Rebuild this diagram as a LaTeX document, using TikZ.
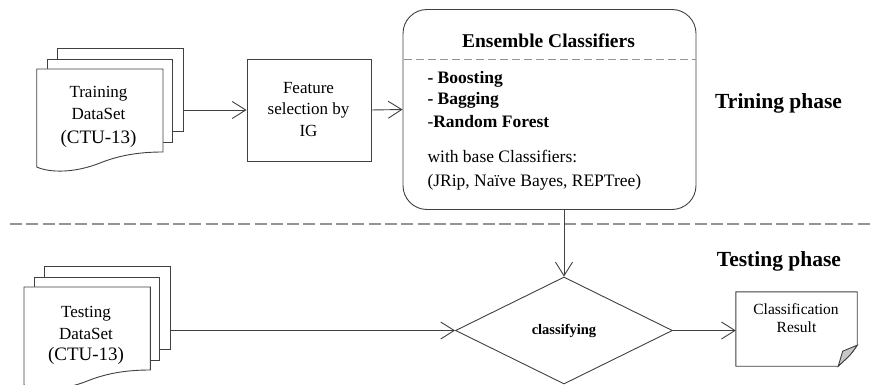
\documentclass[tikz,border=0pt]{standalone}
\usepackage{fontspec}
\setmainfont{Liberation Serif}
\usetikzlibrary{arrows.meta,shapes.geometric,calc}
\newcommand\myfs[1]{\fontsize{#1}{#1}\selectfont}
\begin{document}
\begin{tikzpicture}[x=1pt,y=-1pt,
  ln/.style={draw=black!75, line width=0.9pt},
  arr/.style={ln, -{Straight Barb[length=13.5pt,width=17pt]}},
  page/.style={ln, fill=white},
  txt/.style={inner sep=0pt, anchor=base, text=black},
  txtl/.style={inner sep=0pt, anchor=base west, text=black},
  sepline/.style={draw=black!42, line width=2pt, dash pattern=on 12pt off 4.3pt},
  innerdash/.style={draw=black!42, line width=1pt, dash pattern=on 8pt off 4pt}]
\useasboundingbox (0,0) rectangle (871,385);

% separator
\draw[sepline] (10,224) -- (871,224);

% Training data stack
\draw[page] (57,48) rectangle (183,131);
\draw[page] (47,59) rectangle (172,142);
\draw[page] (36.7,69) -- (163,69) -- (163,152)
  .. controls (140,152) and (120,155) .. (100,163)
  .. controls (75,173) and (50,173) .. (36.7,167) -- cycle;
\node[txt, font=\myfs{17}] (tr1) at (98.5,98) {Training};
\node[txt, font=\myfs{17}] (tr2) at (98.5,120) {DataSet};
\node[txt, font=\myfs{19}] (tr3) at (98.5,144) {(CTU-13)};
\coordinate (trainout) at (183,110);

% Feature selection
\node[ln, minimum width=124pt, minimum height=102pt, inner sep=0pt] (feat) at (309,110) {};
\node[txt, font=\myfs{17}] (f1) at (308.5,93.3) {Feature};
\node[txt, font=\myfs{17}] (f2) at (308.5,115) {selection by};
\node[txt, font=\myfs{17}] (f3) at (308.5,136.7) {IG};

% Ensemble classifiers
\node[ln, rounded corners=24pt, minimum width=293pt, minimum height=200pt, inner sep=0pt] (ens) at (549.5,109.5) {};
\draw[innerdash] (403.5,60) -- (695.5,60);
\node[txt, font=\bfseries\myfs{19.5}] (e0) at (548.5,47.7) {Ensemble Classifiers};
\node[txtl, font=\bfseries\myfs{17.5}] (e1) at (427.3,83.3) {- Boosting};
\node[txtl, font=\bfseries\myfs{17.5}] (e2) at (427.3,105) {- Bagging};
\node[txtl, font=\myfs{17.5}] (e3) at (427.3,127.7) {-\textbf{Random Forest}};
\node[txtl, font=\myfs{17.5}] (e4) at (427.3,162.7) {with base Classifiers:};
\node[txtl, font=\myfs{17.5}] (e5) at (427.3,186.7) {(JRip, Naïve Bayes, REPTree)};

% Phase labels
\node[txtl, font=\bfseries\myfs{21.5}] (trph) at (715,108.3) {Trining phase};
\node[txtl, font=\bfseries\myfs{21.5}] (teph) at (716.7,266.7) {Testing phase};

% Testing data stack
\draw[page] (44.3,266) rectangle (170.3,349);
\draw[page] (34.3,277) rectangle (159.3,360);
\draw[page] (24,287) -- (150.3,287) -- (150.3,370)
  .. controls (127.3,370) and (107.3,373) .. (87.3,381)
  .. controls (62.3,391) and (37.3,391) .. (24,385) -- cycle;
\node[txt, font=\myfs{17}] (te1) at (86,317.7) {Testing};
\node[txt, font=\myfs{17}] (te2) at (86,339) {DataSet};
\node[txt, font=\myfs{19}] (te3) at (86,360.7) {(CTU-13)};
\coordinate (testout) at (170.3,330.5);

% Classifying diamond
\node[ln, diamond, minimum width=217pt, minimum height=107pt, inner sep=0pt, font=\bfseries\myfs{14.5}] (cls) at (564,330.5) {classifying};

% Result document
\node[inner sep=0pt, minimum width=121pt, minimum height=74pt] (res) at (796.5,329) {};
\draw[ln, fill=white] (res.north west) -- (res.north east) -- ($(res.south east)+(0,-21)$)
  .. controls ($(res.south east)+(-6,-12)$) .. ($(res.south east)+(-19,0)$) -- (res.south west) -- cycle;
\draw[ln, fill=black!22] ($(res.south east)+(0,-21)$) -- ($(res.south east)+(-14.5,-15)$) -- ($(res.south east)+(-19,0)$)
  .. controls ($(res.south east)+(-6,-12)$) .. ($(res.south east)+(0,-21)$) -- cycle;
\node[txt, font=\myfs{15.5}] (r1) at (796,314.3) {Classification};
\node[txt, font=\myfs{15.5}] (r2) at (796.5,332.3) {Result};

% Connectors
\draw[arr] (trainout) -- (feat.west);
\draw[arr] (feat.east) -- (ens.west);
\draw[arr] (ens.south -| cls.north) -- (cls.north);
\draw[arr] (testout) -- (cls.west);
\draw[arr] (cls.east) -- (cls.east -| res.west);
\end{tikzpicture}
\end{document}
